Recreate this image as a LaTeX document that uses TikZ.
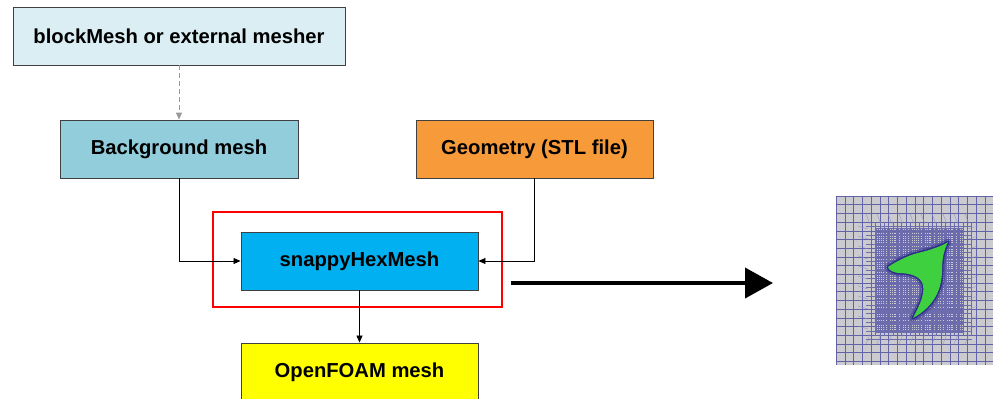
\documentclass[tikz,border=0pt]{standalone}
\usepackage{fontspec}
\setmainfont{Liberation Sans}
\usetikzlibrary{arrows.meta}
\definecolor{paleblue}{HTML}{DAEEF3}
\definecolor{tealblue}{HTML}{92CDDC}
\definecolor{geoorange}{HTML}{F79A3A}
\definecolor{snappyblue}{HTML}{00B0F0}
\definecolor{foamyellow}{HTML}{FFFF00}
\definecolor{boxedge}{HTML}{404040}
\definecolor{meshgray}{HTML}{CBCBCF}
\definecolor{meshline}{HTML}{2E2E8A}
\definecolor{solidgreen}{HTML}{3FD03F}
\tikzset{
  stage/.style={draw=boxedge, line width=0.9bp, minimum height=58bp,
    inner sep=0pt, font=\fontsize{20.3}{24}\selectfont\bfseries},
  flow/.style={draw=black, line width=0.8bp, -{Triangle[length=7bp,width=6bp]}},
  feed/.style={draw=black!40, line width=0.9bp, dashed, dash pattern=on 5bp off 3bp,
    -{Triangle[length=7bp,width=6bp]}},
  bigflow/.style={draw=black, line width=4bp, -{Triangle[length=28bp,width=30bp]}},
  gridline/.style={draw=meshline!75, line width=0.5bp},
  finegrid/.style={draw=meshline!70, line width=0.3bp},
  body/.style={line join=round},
}
\begin{document}
\begin{tikzpicture}[x=1bp,y=-1bp]
\useasboundingbox (0,0) rectangle (993,398);

% pipeline stages
\node[stage, fill=paleblue, minimum width=332bp] (block) at (179,36) {blockMesh or external mesher};
\node[stage, fill=tealblue, minimum width=238bp] (bg) at (179,149) {Background mesh};
\node[stage, fill=geoorange, minimum width=237bp] (geo) at (534.5,149) {Geometry (STL file)};
\node[stage, fill=snappyblue, minimum width=237bp] (snappy) at (359.5,261) {snappyHexMesh};
\node[stage, fill=foamyellow, minimum width=237bp] (foam) at (359.5,372) {OpenFOAM mesh};

% highlight frame round the mesher
\node[draw=red, line width=2bp, minimum width=289bp, minimum height=95bp] (frame) at (357.5,259.5) {};

% connectors
\draw[feed] (block) -- (bg);
\draw[flow] (bg.south) |- (snappy.west);
\draw[flow] (geo.south) |- (snappy.east);
\draw[flow] (snappy) -- (foam);

% result arrow
\coordinate (arrowstart) at (511,283);
\coordinate (arrowend) at (773,283);
\draw[bigflow] (arrowstart) -- (arrowend);

% resulting mesh around the body
\def\bodypath{(888,267) .. controls (900,259) and (912,254) .. (922,252)
    .. controls (933,249) and (942,246) .. (948,242)
    .. controls (944,250) and (942,258) .. (942,270)
    .. controls (942,288) and (935,306) .. (913,318)
    .. controls (918,308) and (925,296) .. (923,285)
    .. controls (921,276) and (910,273) .. (898,273)
    .. controls (892,272) and (889,270) .. (888,267) -- cycle}
\begin{scope}
  \clip (836,196) rectangle (993,365);
  \fill[meshgray] (836,196) rectangle (993,365);
  % coarse background cells
  \foreach \i in {0,...,18} {
    \draw[gridline] (836+\i*8.75,196) -- (836+\i*8.75,365);
  }
  \foreach \j in {0,...,19} {
    \draw[gridline] (836,196+\j*8.7) -- (993,196+\j*8.7);
  }
  % transition cells with split faces
  \foreach \i in {0,...,11} {
    \draw[finegrid] (871+\i*8.75+4.37,222) -- (871+\i*8.75+4.37,336);
  }
  \foreach \j in {0,...,13} {
    \draw[finegrid] (866,222+\j*8.7+4.35) -- (972,222+\j*8.7+4.35);
  }
  \foreach \i in {0,...,9} {
    \draw[meshline!55, line width=0.3bp] (866+\i*11,214) -- (870+\i*11,224);
    \draw[meshline!55, line width=0.3bp] (866+\i*11,344) -- (870+\i*11,334);
  }
  \foreach \j in {0,...,10} {
    \draw[meshline!55, line width=0.3bp] (858,226+\j*10) -- (868,229+\j*10);
    \draw[meshline!55, line width=0.3bp] (978,226+\j*10) -- (968,229+\j*10);
  }
  % second refinement level
  \begin{scope}
    \clip (876,228) rectangle (964,332);
    \foreach \i in {0,...,20} {
      \draw[finegrid] (876+\i*4.375,228) -- (876+\i*4.375,332);
    }
    \foreach \j in {0,...,24} {
      \draw[finegrid] (876,228+\j*4.35) -- (964,228+\j*4.35);
    }
  \end{scope}
  % third refinement level hugging the body
  \begin{scope}
    \begin{scope}[shift={(918,280)}, scale=1.45, shift={(-918,-280)}]
      \clip \bodypath;
    \end{scope}
    \foreach \i in {0,...,40} {
      \draw[finegrid] (876+\i*2.19,228) -- (876+\i*2.19,332);
    }
    \foreach \j in {0,...,48} {
      \draw[finegrid] (876,228+\j*2.17) -- (964,228+\j*2.17);
    }
  \end{scope}
  % boundary layer and body
  \draw[meshline, opacity=0.4, line width=7bp, body] \bodypath;
  \draw[meshline, line width=3bp, body] \bodypath;
  \fill[solidgreen, body] \bodypath;
\end{scope}
\end{tikzpicture}
\end{document}
